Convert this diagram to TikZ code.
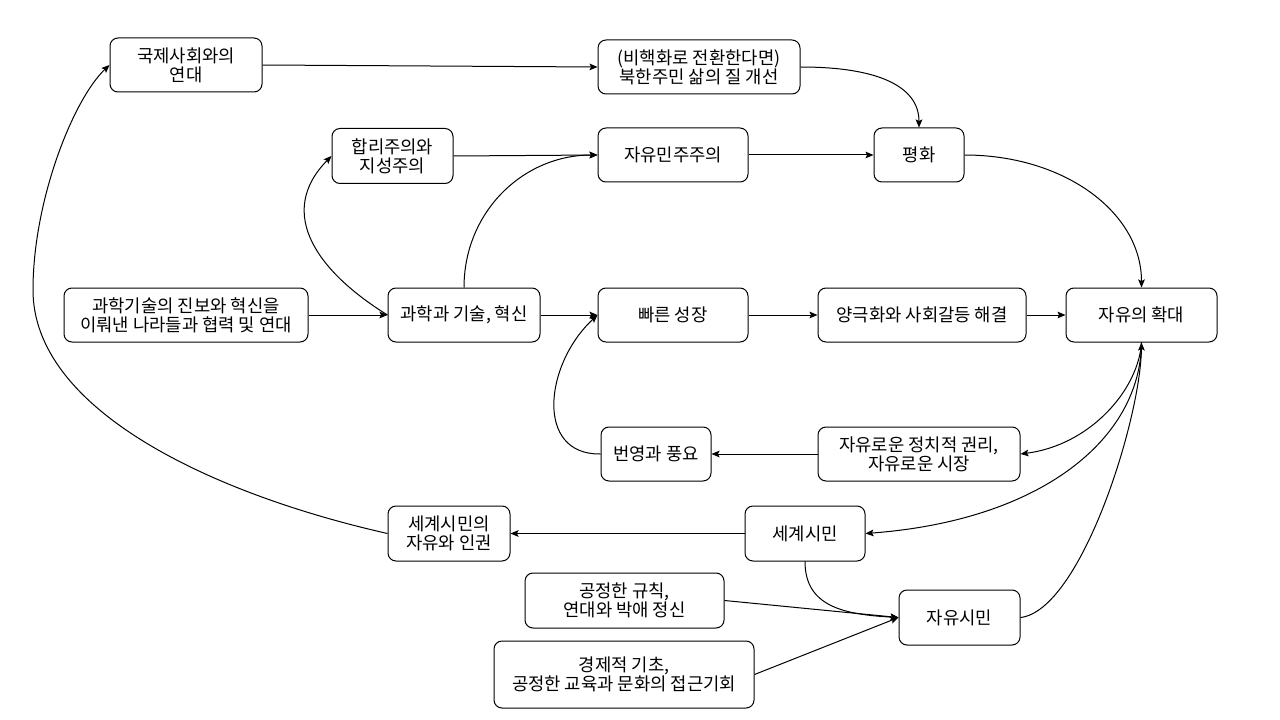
\documentclass[tikz,border=0pt]{standalone}
\usepackage{fontspec}
\setmainfont{Noto Sans CJK KR}
\usetikzlibrary{arrows.meta}
\begin{document}
\begin{tikzpicture}[x=0.75pt,y=-0.75pt,
  box/.style={draw, line width=0.75pt, rounded corners=6pt, align=center, inner sep=0pt, font=\fontsize{13.3pt}{14.3pt}\selectfont},
  sz/.style 2 args={minimum width=#1*0.75pt, minimum height=#2*0.75pt},
  arr/.style={line width=0.75pt, -{Stealth[length=6pt,width=5pt,inset=1.2pt]}}]
\fill[white] (0,0) rectangle (1280,720);
\useasboundingbox (0,0) rectangle (1280,720);
\node[box,sz={152}{54}] (n1) at (186,65) {국제사회와의\\연대};
\node[box,sz={202}{54}] (n2) at (699,67) {(비핵화로 전환한다면)\\북한주민 삶의 질 개선};
\node[box,sz={121}{55}] (n3) at (392.5,156) {합리주의와\\지성주의};
\node[box,sz={150}{54}] (n4) at (673,155) {자유민주주의};
\node[box,sz={90}{54}] (n5) at (919,155) {평화};
\node[box,sz={244}{54}] (n6) at (186,315) {과학기술의 진보와 혁신을\\이뤄낸 나라들과 협력 및 연대};
\node[box,sz={152}{54}] (n7) at (464,315) {과학과 기술, 혁신};
\node[box,sz={150}{54}] (n8) at (673,315) {빠른 성장};
\node[box,sz={208}{54}] (n9) at (922,315) {양극화와 사회갈등 해결};
\node[box,sz={151}{54}] (n10) at (1141.5,315) {자유의 확대};
\node[box,sz={110}{54}] (n11) at (656,454) {번영과 풍요};
\node[box,sz={202}{54}] (n12) at (919,454) {자유로운 정치적 권리,\\자유로운 시장};
\node[box,sz={122}{55}] (n13) at (449,533.5) {세계시민의\\자유와 인권};
\node[box,sz={120}{55}] (n14) at (805,533.5) {세계시민};
\node[box,sz={199}{55}] (n15) at (624.5,600.5) {공정한 규칙,\\연대와 박애 정신};
\node[box,sz={121}{55}] (n16) at (959.5,617.5) {자유시민};
\node[box,sz={260}{67}] (n17) at (624,674.5) {경제적 기초,\\공정한 교육과 문화의 접근기회};

\draw[arr] (n1.east) -- (n2.west);
\draw[arr] (n2.east) .. controls +(80,0) and +(0,-40) .. (n5.north);
\draw[arr] (n3.east) -- (n4.west);
\draw[arr] (n4.east) -- (n5.west);
\draw[arr] (n5.east) .. controls +(100,0) and +(0,-75) .. (n10.north);
\draw[arr] (n6.east) -- (n7.west);
\draw[arr] (n7.west) .. controls +(-68,-42) and +(-57,58) .. (n3.west);
\draw[arr] (n7.north) .. controls +(0,-75) and +(-75,0) .. (n4.west);
\draw[arr] (n7.east) -- (n8.west);
\draw[arr] (n11.west) .. controls +(-66,1) and +(-53,49) .. (n8.west);
\draw[arr] (n8.east) -- (n9.west);
\draw[arr] (n9.east) -- (n10.west);
\draw[arr] (n10.south) .. controls +(-3,47) and +(70,-9) .. (n12.east);
\draw[arr] (n12.west) -- (n11.east);
\draw[arr] (n10.south) .. controls +(-1,97) and +(175,-13) .. (n14.east);
\draw[arr] (n14.west) -- (n13.east);
\coordinate (lp) at (33,290);
\draw[arr] (n13.west) .. controls +(-175.5,-39.6) and (33,410) .. (lp) .. controls (33,200) and (73.5,99) .. (n1.west);
\draw[arr] (n14.south) .. controls +(0,45) and +(-55,-3) .. (n16.west);
\draw[arr] (n15.east) -- (n16.west);
\draw[arr] (n17.east) -- (n16.west);
\draw[arr] (n16.east) .. controls +(60,-7) and +(-1,78) .. (n10.south);
\end{tikzpicture}
\end{document}
